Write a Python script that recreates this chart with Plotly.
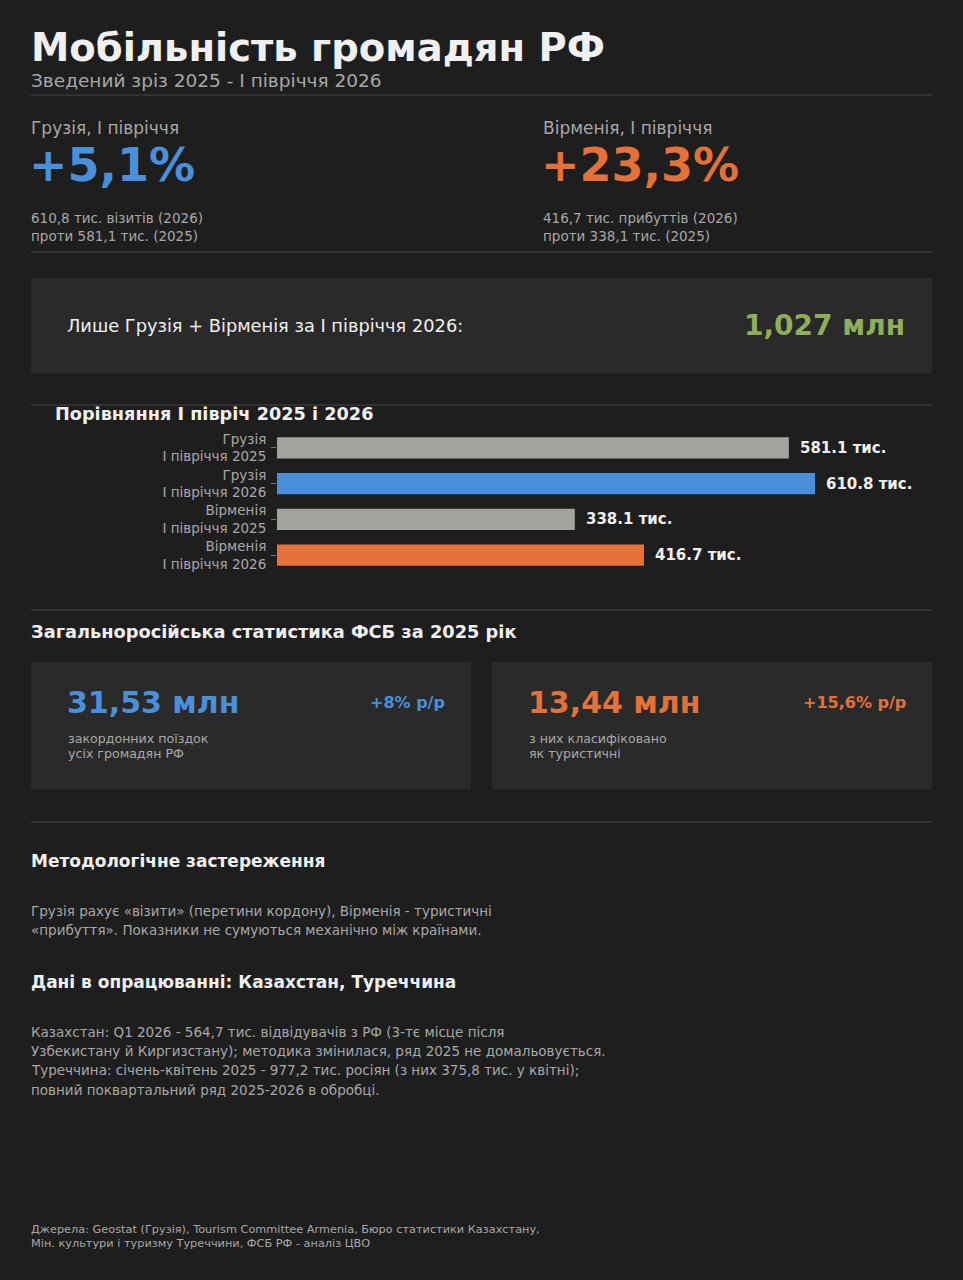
import plotly.graph_objects as go

W, H = 963, 1280

# --- data ---
bar_labels = ["Грузія<br>I півріччя 2025", "Грузія<br>I півріччя 2026",
              "Вірменія<br>I півріччя 2025", "Вірменія<br>I півріччя 2026"]
bar_values = [581.1, 610.8, 338.1, 416.7]
bar_colors = ["#a3a39d", "#4a8fd9", "#a3a39d", "#e5713a"]

georgia_change = "+5,1%"
armenia_change = "+23,3%"
georgia_lines = ["610,8 тис. візитів (2026)", "проти 581,1 тис. (2025)"]
armenia_lines = ["416,7 тис. прибуттів (2026)", "проти 338,1 тис. (2025)"]
total_value = "1,027 млн"
fsb_values = ["31,53 млн", "13,44 млн"]
fsb_growth = ["+8% р/р", "+15,6% р/р"]
fsb_notes = [["закордонних поїздок", "усіх громадян РФ"],
             ["з них класифіковано", "як туристичні"]]
method_lines = ["Грузія рахує «візити» (перетини кордону), Вірменія - туристичні",
                "«прибуття». Показники не сумуються механічно між країнами."]
pending_lines = ["Казахстан: Q1 2026 - 564,7 тис. відвідувачів з РФ (3-тє місце після",
                 "Узбекистану й Киргизстану); методика змінилася, ряд 2025 не домальовується.",
                 "Туреччина: січень-квітень 2025 - 977,2 тис. росіян (з них 375,8 тис. у квітні);",
                 "повний поквартальний ряд 2025-2026 в обробці."]
source_lines = ["Джерела: Geostat (Грузія), Tourism Committee Armenia, Бюро статистики Казахстану,",
                "Мін. культури і туризму Туреччини, ФСБ РФ - аналіз ЦВО"]

BG = "#1e1e1e"
CARD = "#2a2a2a"
RULE = "#3a3a3a"
BLUE = "#4a8fd9"
ORANGE = "#e5713a"
GREEN = "#8fae5a"
GREY = "#a8a8a8"
WHITE = "#f0f0f0"
FONT = "DejaVu Sans"


def X(px):
    return px / W


def Y(py):
    return 1 - py / H


fig = go.Figure()

fig.add_trace(go.Bar(
    y=bar_labels, x=bar_values, orientation="h",
    marker=dict(color=bar_colors, line=dict(width=0)),
    hoverinfo="skip", showlegend=False,
))

# value labels next to bars
for lab, v in zip(bar_labels, bar_values):
    fig.add_annotation(x=v, y=lab, xref="x", yref="y", text=f"<b>{v:.1f} тис.</b>",
                       showarrow=False, xanchor="left", xshift=9,
                       font=dict(family=FONT, size=15, color=WHITE))


def txt(x, y, s, size, color, bold=False, anchor="left"):
    if bold:
        s = f"<b>{s}</b>"
    fig.add_annotation(x=X(x), y=Y(y), xref="paper", yref="paper", text=s,
                       showarrow=False, xanchor=anchor, yanchor="middle",
                       font=dict(family=FONT, size=size, color=color))


def rule(y):
    fig.add_shape(type="line", xref="paper", yref="paper", x0=X(31), x1=X(932),
                  y0=Y(y), y1=Y(y), line=dict(color=RULE, width=1.5))


def card(x0, y0, x1, y1):
    fig.add_shape(type="rect", xref="paper", yref="paper", x0=X(x0), x1=X(x1),
                  y0=Y(y0), y1=Y(y1), fillcolor=CARD, line=dict(width=0), layer="below")


# header
txt(29, 48, "Мобільність громадян РФ", 38.5, WHITE, bold=True)
txt(29, 80, "Зведений зріз 2025 - I півріччя 2026", 18.5, GREY)
rule(95)

# headline numbers
txt(29, 128, "Грузія, I півріччя", 17, GREY)
txt(27, 165, georgia_change, 46, BLUE, bold=True)
txt(29, 218, georgia_lines[0], 13.5, GREY)
txt(29, 236, georgia_lines[1], 13.5, GREY)
txt(541, 128, "Вірменія, I півріччя", 17, GREY)
txt(539, 165, armenia_change, 46, ORANGE, bold=True)
txt(541, 218, armenia_lines[0], 13.5, GREY)
txt(541, 236, armenia_lines[1], 13.5, GREY)
rule(252)

# total box
card(31, 278, 932, 373)
txt(65, 325, "Лише Грузія + Вірменія за I півріччя 2026:", 17.8, WHITE)
txt(907, 325, total_value, 28, GREEN, bold=True, anchor="right")

# bar section
rule(405)
txt(53, 414, "Порівняння I півріч 2025 і 2026", 17.7, WHITE, bold=True)
rule(610)

# FSB section
txt(29, 631, "Загальноросійська статистика ФСБ за 2025 рік", 17.8, WHITE, bold=True)
card(31, 662, 471, 789)
card(492, 662, 932, 789)
for i, (x0, x1, col) in enumerate([(67, 447, BLUE), (528, 908, ORANGE)]):
    txt(x0 - 2, 702, fsb_values[i], 30, col, bold=True)
    txt(x1, 702, fsb_growth[i], 16, col, bold=True, anchor="right")
    txt(x0 - 1, 738, fsb_notes[i][0], 12.6, GREY)
    txt(x0 - 1, 753, fsb_notes[i][1], 12.6, GREY)
rule(822)

txt(29, 861, "Методологічне застереження", 17, WHITE, bold=True)
for k, line in enumerate(method_lines):
    txt(29, 911 + 19 * k, line, 13.5, GREY)

txt(29, 982, "Дані в опрацюванні: Казахстан, Туреччина", 17, WHITE, bold=True)
for k, line in enumerate(pending_lines):
    txt(29, 1032 + 19.2 * k, line, 13.5, GREY)

for k, line in enumerate(source_lines):
    txt(29, 1229 + 14 * k, line, 11.3, GREY)

# bar axes: 538 px for 610.8 thousand
x_max = 700
fig.update_layout(
    width=W, height=H,
    margin=dict(l=0, r=0, t=0, b=0),
    paper_bgcolor=BG, plot_bgcolor=BG,
    font=dict(family=FONT, color=GREY),
    bargap=0.41,
    xaxis=dict(domain=[X(277), X(277 + x_max * 538 / 610.8)], range=[0, x_max],
               visible=False, fixedrange=True),
    yaxis=dict(domain=[Y(573), Y(430)], autorange="reversed", showgrid=False,
               zeroline=False, showline=False, ticks="outside", ticklen=5,
               tickcolor="#777777", ticklabelstandoff=2,
               tickfont=dict(family=FONT, size=13.5, color=GREY), fixedrange=True),
)

fig.write_html("out.html", config={"displayModeBar": False},
               post_script="document.body.style.margin='0';"
                           "document.body.style.background='#1e1e1e';")
